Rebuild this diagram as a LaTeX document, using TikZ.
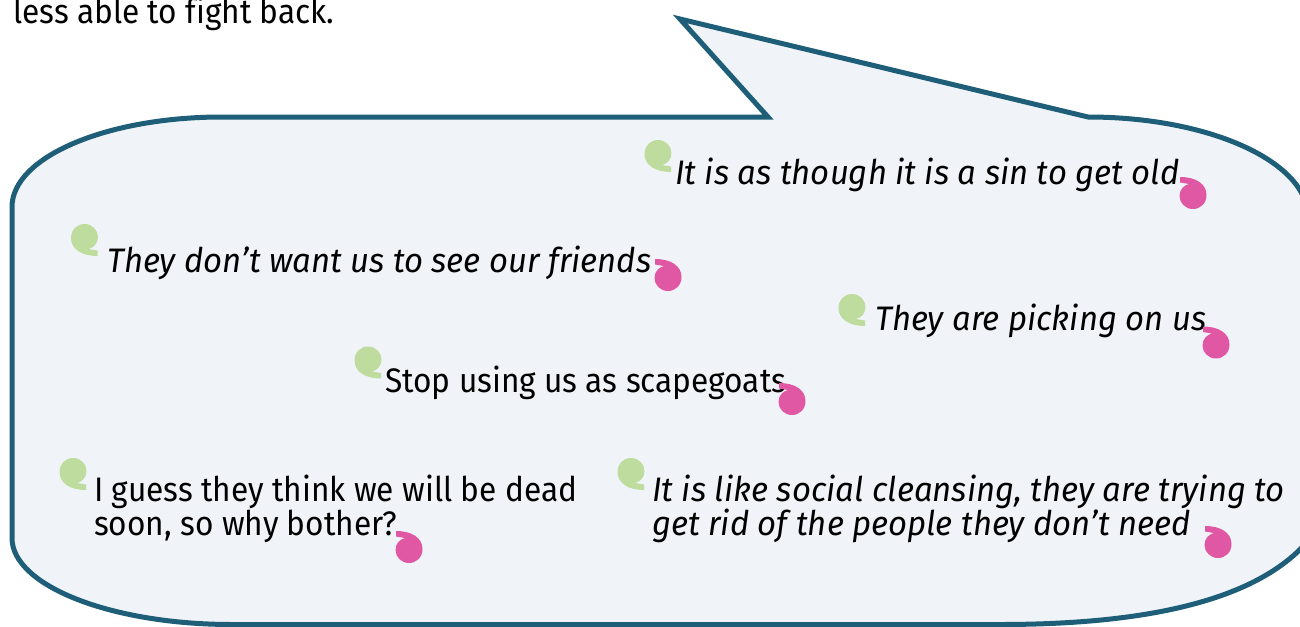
\documentclass[tikz,border=0pt]{standalone}
\usepackage{fontspec}
\setmainfont{Fira Sans}[FakeStretch=0.93, Ligatures=NoCommon, ItalicFeatures={FakeStretch=0.967}]
\definecolor{edgeblue}{RGB}{30,94,120}
\definecolor{bubblefill}{RGB}{240,244,248}
\definecolor{qgreen}{RGB}{190,220,158}
\definecolor{qpink}{RGB}{224,88,164}
\begin{document}
\begin{tikzpicture}[x=1pt,y=-1pt,
  txt/.style={anchor=base west, inner sep=0pt, font=\fontsize{34}{34}\selectfont},
  itxt/.style={anchor=base west, inner sep=0pt, font=\fontsize{34}{34}\selectfont\itshape},
  bubble/.style={draw=edgeblue, fill=bubblefill, line width=5pt, line join=miter},
  openq/.pic={\fill[qgreen] (13,16) -- (13,10.5) -- (4,9)
      .. controls (8.5,8) and (13.5,4) .. (13.5,-3)
      .. controls (13.5,-10.2) and (7.5,-16) .. (0,-16)
      .. controls (-7.5,-16) and (-13.5,-10.2) .. (-13.5,-2)
      .. controls (-13.5,9) and (-3,16) .. (13,16) -- cycle;},
  closeq/.pic={\begin{scope}[rotate=180]\fill[qpink] (13,16) -- (13,10.5) -- (4,9)
      .. controls (8.5,8) and (13.5,4) .. (13.5,-3)
      .. controls (13.5,-10.2) and (7.5,-16) .. (0,-16)
      .. controls (-7.5,-16) and (-13.5,-10.2) .. (-13.5,-2)
      .. controls (-13.5,9) and (-3,16) .. (13,16) -- cycle;\end{scope}}
]
\useasboundingbox (0,0) rectangle (1300,626);
\clip (0,0) rectangle (1300,626);
\fill[white] (0,0) rectangle (1300,626);

% speech bubble
\draw[bubble] (12,207) .. controls (12,157.3) and (106,117) .. (222,117)
  -- (768,117) -- (680,19) -- (1088,117)
  .. controls (1209.5,117) and (1308,161.8) .. (1308,217)
  -- (1340,450) .. controls (1340,580) and (1200,624.5) .. (1000,624.5)
  -- (232,624.5) .. controls (110.5,624.5) and (12,585.5) .. (12,538) -- cycle;

% text above
\node[txt] (intro) at (13,23.5) {less able to fight back.};

% quotes
\node[itxt] (q1) at (675,184.5) {It is as though it is a sin to get old};
\node[itxt] (q2) at (107,272) {They don’t want us to see our friends};
\node[itxt] (q3) at (875,330.7) {They are picking on us};
\node[txt] (q4) at (385,392.7) {Stop using us as scapegoats};
\node[txt, align=left] (q5) at (94,535) {I guess they think we will be dead\\soon, so why bother?};
\node[itxt, align=left] (q6) at (652,535) {It is like social cleansing, they are trying to\\get rid of the people they don’t need};

% quotation marks
\pic at (658,156) {openq};    \pic at (1193,193) {closeq};
\pic at (84.5,240) {openq};   \pic at (668,275) {closeq};
\pic at (852,310) {openq};    \pic at (1216,342.5) {closeq};
\pic at (368,362.5) {openq};  \pic at (792,399) {closeq};
\pic at (73,474) {openq};     \pic at (409,547) {closeq};
\pic at (631,474) {openq};    \pic at (1218,542) {closeq};
\end{tikzpicture}
\end{document}
